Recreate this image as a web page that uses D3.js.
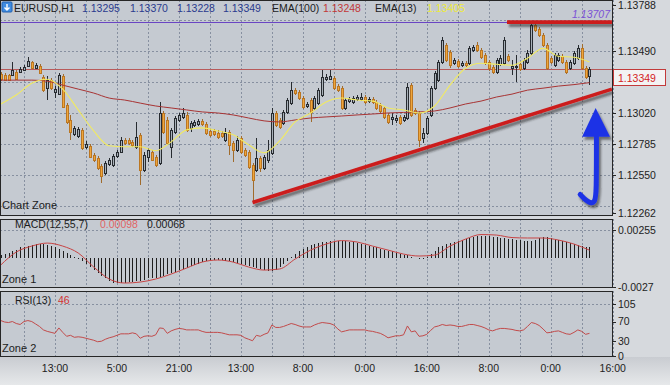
<!DOCTYPE html>
<html>
<head>
<meta charset="utf-8">
<script src="https://cdn.jsdelivr.net/npm/d3@7"></script>
<style>
body { margin: 0; background: #d5d8dc; }
svg { display: block; font-family: "Liberation Sans", Arial, sans-serif; }
</style>
</head>
<body>
<div id="chart"></div>
<script>
// EURUSD H1 candles (bar 0 is the partly hidden one at the left edge)
const opens = [1.13327,
  1.13312,1.13305,1.13305,1.13305,1.13327,1.13327,1.13342,1.13372,1.13403,1.13357,
  1.13372,1.13289,1.13206,1.13267,1.13176,1.13161,1.13297,1.13078,1.12965,1.12860,
  1.12845,1.12890,1.12762,1.12769,1.12701,1.12679,1.12618,1.12566,1.12633,1.12626,
  1.12694,1.12724,1.12814,1.12814,1.12799,1.12762,1.12852,1.12588,1.12686,1.12724,
  1.12686,1.12641,1.13018,1.12965,1.12762,1.12875,1.12965,1.12988,1.13003,1.12905,
  1.12928,1.12935,1.12958,1.12935,1.12882,1.12882,1.12867,1.12867,1.12814,1.12875,
  1.12792,1.12739,1.12830,1.12739,1.12724,1.12626,1.12588,1.12679,1.12603,1.12664,
  1.12716,1.13018,1.12965,1.12943,1.13026,1.13093,1.13191,1.13176,1.13131,1.13071,
  1.13116,1.13056,1.13093,1.13154,1.13274,1.13274,1.13282,1.13222,1.13206,1.13056,
  1.13108,1.13101,1.13124,1.13124,1.13139,1.13108,1.13124,1.13101,1.13078,1.13056,
  1.13003,1.12973,1.12965,1.12988,1.12965,1.12980,1.13229,1.13041,1.13018,1.12830,
  1.12867,1.13003,1.13206,1.13267,1.13403,1.13531,1.13478,1.13395,1.13410,1.13380,
  1.13395,1.13395,1.13493,1.13531,1.13493,1.13455,1.13403,1.13365,1.13327,1.13388,
  1.13395,1.13448,1.13357,1.13365,1.13388,1.13357,1.13403,1.13470,1.13682,1.13651,
  1.13606,1.13531,1.13433,1.13380,1.13418,1.13448,1.13403,1.13357,1.13395,1.13433,
  1.13508,1.13357,1.13295];
const highs = [1.13342,
  1.13327,1.13320,1.13312,1.13403,1.13342,1.13365,1.13380,1.13440,1.13410,1.13395,
  1.13388,1.13305,1.13297,1.13282,1.13222,1.13320,1.13312,1.13093,1.13003,1.12920,
  1.12913,1.12905,1.12807,1.12784,1.12716,1.12694,1.12633,1.12656,1.12679,1.12709,
  1.12739,1.12837,1.12830,1.12830,1.12814,1.12950,1.12867,1.12724,1.12754,1.12739,
  1.12701,1.13101,1.13033,1.12988,1.12905,1.12995,1.13018,1.13056,1.13026,1.12958,
  1.12965,1.12973,1.12973,1.12950,1.12897,1.12897,1.12890,1.12882,1.12905,1.12890,
  1.12807,1.12845,1.12845,1.12754,1.12739,1.12641,1.12830,1.12694,1.12701,1.12814,
  1.13056,1.13033,1.12980,1.13041,1.13131,1.13252,1.13206,1.13191,1.13146,1.13101,
  1.13131,1.13146,1.13206,1.13342,1.13312,1.13342,1.13297,1.13237,1.13222,1.13131,
  1.13139,1.13146,1.13154,1.13169,1.13154,1.13139,1.13139,1.13116,1.13093,1.13071,
  1.13018,1.13018,1.13003,1.13003,1.13003,1.13244,1.13244,1.13056,1.13033,1.12905,
  1.12995,1.13222,1.13335,1.13418,1.13591,1.13546,1.13493,1.13433,1.13425,1.13410,
  1.13410,1.13523,1.13531,1.13553,1.13508,1.13470,1.13418,1.13380,1.13433,1.13455,
  1.13591,1.13463,1.13418,1.13455,1.13403,1.13433,1.13493,1.13704,1.13697,1.13666,
  1.13621,1.13546,1.13448,1.13470,1.13470,1.13463,1.13418,1.13418,1.13486,1.13531,
  1.13538,1.13372,1.13370];
const lows = [1.13274,
  1.13259,1.13259,1.13259,1.13297,1.13267,1.13320,1.13335,1.13365,1.13350,1.13350,
  1.13312,1.13176,1.13116,1.13191,1.13131,1.13154,1.13056,1.12935,1.12814,1.12845,
  1.12830,1.12739,1.12747,1.12679,1.12649,1.12588,1.12490,1.12551,1.12618,1.12611,
  1.12679,1.12716,1.12777,1.12777,1.12762,1.12747,1.12475,1.12573,1.12649,1.12656,
  1.12611,1.12626,1.12860,1.12777,1.12679,1.12860,1.12950,1.12973,1.12875,1.12875,
  1.12913,1.12920,1.12920,1.12852,1.12837,1.12845,1.12822,1.12830,1.12799,1.12701,
  1.12649,1.12724,1.12709,1.12686,1.12596,1.12339,1.12573,1.12573,1.12588,1.12641,
  1.12701,1.12913,1.12897,1.12928,1.13011,1.13078,1.13154,1.13116,1.13048,1.13056,
  1.12950,1.13041,1.13078,1.13139,1.13259,1.13267,1.13191,1.13176,1.13041,1.13041,
  1.13093,1.13086,1.13108,1.13108,1.13086,1.13093,1.13086,1.13041,1.13018,1.12973,
  1.12935,1.12928,1.12943,1.12928,1.12950,1.12965,1.12988,1.13003,1.12762,1.12792,
  1.12852,1.12988,1.13191,1.13252,1.13388,1.13403,1.13357,1.13380,1.13357,1.13365,
  1.13365,1.13380,1.13478,1.13478,1.13425,1.13380,1.13335,1.13312,1.13312,1.13372,
  1.13380,1.13403,1.13305,1.13252,1.13335,1.13342,1.13388,1.13455,1.13629,1.13591,
  1.13516,1.13342,1.13388,1.13365,1.13403,1.13388,1.13312,1.13342,1.13380,1.13418,
  1.13342,1.13274,1.13228];
const closes = [1.13289,
  1.13274,1.13267,1.13267,1.13342,1.13274,1.13350,1.13365,1.13410,1.13357,1.13380,
  1.13320,1.13191,1.13267,1.13206,1.13199,1.13305,1.13063,1.12950,1.12875,1.12905,
  1.12897,1.12754,1.12784,1.12686,1.12664,1.12603,1.12543,1.12641,1.12664,1.12694,
  1.12724,1.12814,1.12792,1.12792,1.12777,1.12837,1.12588,1.12701,1.12739,1.12664,
  1.12626,1.13018,1.12875,1.12792,1.12890,1.12980,1.13003,1.13018,1.12890,1.12943,
  1.12950,1.12958,1.12935,1.12867,1.12852,1.12860,1.12837,1.12845,1.12867,1.12777,
  1.12739,1.12814,1.12724,1.12701,1.12611,1.12513,1.12679,1.12603,1.12686,1.12739,
  1.13018,1.12928,1.12913,1.13026,1.13116,1.13191,1.13169,1.13131,1.13063,1.13086,
  1.13026,1.13131,1.13191,1.13289,1.13289,1.13297,1.13206,1.13191,1.13056,1.13116,
  1.13124,1.13131,1.13139,1.13139,1.13101,1.13124,1.13101,1.13056,1.13033,1.12988,
  1.12950,1.12988,1.12980,1.12943,1.12988,1.13214,1.13003,1.13018,1.12814,1.12867,
  1.12980,1.13206,1.13320,1.13403,1.13568,1.13418,1.13380,1.13418,1.13372,1.13395,
  1.13380,1.13508,1.13516,1.13493,1.13440,1.13395,1.13357,1.13327,1.13418,1.13433,
  1.13568,1.13418,1.13372,1.13372,1.13350,1.13418,1.13470,1.13682,1.13644,1.13606,
  1.13531,1.13357,1.13403,1.13455,1.13455,1.13403,1.13327,1.13403,1.13470,1.13508,
  1.13357,1.13289,1.13349];

// moving averages, read every 4th bar starting at bar 1
const emaStart = 1, emaStep = 4;
const ema13 = [1.13086,1.13154,1.13244,1.13274,1.13199,1.13041,1.12882,1.12769,1.12762,1.12762,
  1.12732,1.12799,1.12890,1.12905,1.12882,1.12852,1.12777,1.12716,1.12807,1.12950,
  1.13018,1.13101,1.13131,1.13116,1.13108,1.13056,1.13041,1.13018,1.13071,1.13229,
  1.13357,1.13395,1.13387,1.13380,1.13433,1.13508,1.13448,1.13440,1.13405];
const ema100 = [1.13267,1.13267,1.13267,1.13259,1.13229,1.13199,1.13169,1.13131,1.13116,1.13093,
  1.13071,1.13056,1.13041,1.13026,1.13018,1.13003,1.12980,1.12958,1.12950,1.12965,
  1.12980,1.12988,1.12995,1.13003,1.13010,1.13018,1.13022,1.13026,1.13033,1.13056,
  1.13086,1.13108,1.13139,1.13161,1.13191,1.13206,1.13222,1.13233,1.13248];

// MACD(12,55,7) in points (1e-5): histogram every bar, signal every 4th bar
const macdHistPts = [19,
  28,37,46,65,74,93,102,111,120,130,130,130,120,111,102,83,65,46,28,9,
  -9,-28,-56,-83,-111,-139,-167,-194,-213,-232,-232,-232,-232,-222,-222,-213,-213,
  -204,-194,-185,-185,-176,-167,-157,-139,-130,-111,-102,-93,-74,-65,-56,
  -37,-28,-28,-19,-19,-19,-28,-28,-37,-46,-56,-65,-74,-83,-93,-102,
  -111,-120,-120,-111,-83,-56,-28,9,37,65,83,102,
  120,130,139,148,148,157,157,157,157,157,148,148,
  139,130,120,111,102,93,83,74,65,56,46,37,28,19,9,0,-9,-9,
  9,37,65,93,111,130,139,148,157,167,176,
  185,194,204,204,204,204,194,194,185,185,176,176,167,167,157,
  157,157,167,185,194,194,185,176,167,157,148,139,130,120,111,102,98];
const macdSignalPts = [-69,51,106,134,106,42,-88,-199,-236,-227,-199,-153,-97,-42,-23,-42,
  -88,-116,-106,-14,69,125,157,144,106,69,32,14,23,106,171,213,208,185,181,181,162,125,68];

// RSI(13), every bar
const rsi13 = [73,
  72,69,68,70,66,64,70,72,70,65, 60,53,50,48,46,57,48,40,42,38,
  39,38,36,34,32,29,30,34,37,39, 42,45,45,45,47,45,36,40,41,40,
  43,57,56,46,51,54,56,55,53,53, 53,53,50,48,48,48,48,47,45,43,
  43,43,42,37,34,31,42,40,44,47, 63,58,58,60,63,66,64,61,59,59,
  59,63,66,68,67,66,63,55,49,51, 53,53,53,53,53,51,50,48,46,42,
  37,39,41,41,43,61,49,51,40,41, 44,52,59,61,64,62,63,62,60,60,
  62,64,64,62,60,57,53,51,54,56, 56,55,54,52,51,53,60,68,66,62,
  55,47,48,50,51,48,45,44,48,53, 50,44,46];

const timeLabels = ["13:00","5:00","21:00","13:00","8:00","0:00","16:00","8:00","0:00","16:00"];
const priceTicks = [1.13490, 1.13020, 1.12785, 1.12550];
const priceGrid = [1.13725, 1.13490, 1.13255, 1.13020, 1.12785, 1.12550, 1.12315];
const quote = ["1.13295", "1.13370", "1.13228", "1.13349"];
const lastPrice = 1.13349;
const resistance = 1.13707;

// drawn objects, in bar / price coordinates
const trendLine = [[66, 1.12339], [158.8, 1.13199]];
const resistanceLine = [[131.7, resistance], [158.8, resistance]];
const arrowShaft = [[154.8, 1.12845], [154.8, 1.12407], [154.4, 1.12339], [152.9, 1.12332], [150.6, 1.12400]];
const arrowHead = [[154.6, 1.13056], [151.1, 1.12837], [158.3, 1.12837]];

const W = 670, H = 385, plotR = 612;
const panels = [
  {id: "main", top: 0, bot: 216},
  {id: "macd", top: 219, bot: 288},
  {id: "rsi", top: 291, bot: 357}
];

const x = d3.scaleLinear().domain([0, 159]).range([-3.1, 612.7]);
const yP = d3.scaleLinear().domain([1.12262, 1.13788]).range([212.7, 11.4]);
const yM = d3.scaleLinear().domain([-0.0027, 0.00255]).range([286.7, 230]);
const yR = d3.scaleLinear().domain([0, 105]).range([356, 304.3]);
const snap = v => Math.round(v) + 0.5;

const svg = d3.select("#chart").append("svg")
    .attr("width", W)
    .attr("height", H);

const defs = svg.append("defs");
const shadow = defs.append("filter").attr("id", "shadow")
    .attr("x", "-10%").attr("y", "-10%").attr("width", "130%").attr("height", "160%");
shadow.append("feDropShadow")
    .attr("dx", 2).attr("dy", 3).attr("stdDeviation", 1.3)
    .attr("flood-color", "#222").attr("flood-opacity", 0.55);

const bottomGrad = defs.append("linearGradient").attr("id", "bottomGrad")
    .attr("x1", 0).attr("y1", 0).attr("x2", 0).attr("y2", 1);
bottomGrad.append("stop").attr("offset", "0%").attr("stop-color", "#c9ccd1");
bottomGrad.append("stop").attr("offset", "100%").attr("stop-color", "#e6e8ea");

panels.forEach(p => {
  defs.append("clipPath").attr("id", "clip-" + p.id)
    .append("rect").attr("x", 0).attr("y", p.top).attr("width", plotR).attr("height", p.bot - p.top);
});

svg.append("rect").attr("width", W).attr("height", H).attr("fill", "#d6d9dd");
svg.append("rect").attr("x", 0).attr("y", 357).attr("width", W).attr("height", H - 357)
    .attr("fill", "url(#bottomGrad)");

// panel backgrounds and grids
const gridCols = d3.range(7, 160, 8);
panels.forEach(p => {
  svg.append("rect").attr("x", 0).attr("y", p.top).attr("width", plotR).attr("height", p.bot - p.top)
      .attr("fill", "#c5cad1");
  svg.append("g").selectAll("line").data(gridCols).join("line")
      .attr("x1", d => snap(x(d))).attr("x2", d => snap(x(d)))
      .attr("y1", p.top).attr("y2", p.bot)
      .attr("stroke", "#8790a0").attr("stroke-dasharray", "2,2")
      .attr("shape-rendering", "crispEdges");
});

function hGrid(ys) {
  svg.append("g").selectAll("line").data(ys).join("line")
      .attr("x1", 0).attr("x2", plotR)
      .attr("y1", d => snap(d)).attr("y2", d => snap(d))
      .attr("stroke", "#8790a0").attr("stroke-dasharray", "2,2")
      .attr("shape-rendering", "crispEdges");
}
hGrid(priceGrid.map(yP));
hGrid([yM(0.00255)]);
hGrid([yR(105)]);

// ---------- main chart ----------
const main = svg.append("g").attr("clip-path", "url(#clip-main)");

main.append("line")
    .attr("x1", 0).attr("x2", plotR)
    .attr("y1", snap(yP(resistance))).attr("y2", snap(yP(resistance)))
    .attr("stroke", "#6a45c4").attr("stroke-width", 1);
main.append("line")
    .attr("x1", 0).attr("x2", plotR)
    .attr("y1", snap(yP(lastPrice))).attr("y2", snap(yP(lastPrice)))
    .attr("stroke", "#b85a5a").attr("stroke-width", 1);

const bars = opens.map((o, j) => ({j, o, h: highs[j], l: lows[j], c: closes[j], up: closes[j] >= o}));

main.append("g").selectAll("line").data(bars).join("line")
    .attr("x1", d => Math.round(x(d.j)) + 0.5).attr("x2", d => Math.round(x(d.j)) + 0.5)
    .attr("y1", d => Math.round(yP(d.h))).attr("y2", d => Math.round(yP(d.l)))
    .attr("stroke", d => d.up ? "#272b30" : "#a06b2c")
    .attr("shape-rendering", "crispEdges");

main.append("g").selectAll("rect").data(bars).join("rect")
    .attr("x", d => Math.round(x(d.j)) - 0.5)
    .attr("y", d => Math.round(yP(Math.max(d.o, d.c))) + 0.5)
    .attr("width", 2)
    .attr("height", d => Math.max(1, Math.round(yP(Math.min(d.o, d.c))) - Math.round(yP(Math.max(d.o, d.c)))))
    .attr("fill", d => d.up ? "#a9b1b9" : "#eea63c")
    .attr("stroke", d => d.up ? "#272b30" : "#bb7622")
    .attr("shape-rendering", "crispEdges");

const emaLine = d3.line()
    .x((d, k) => x(emaStart + k * emaStep))
    .y(d => yP(d))
    .curve(d3.curveMonotoneX);
main.append("path").datum(ema100).attr("d", emaLine)
    .attr("fill", "none").attr("stroke", "#a83434").attr("stroke-width", 1);
main.append("path").datum(ema13).attr("d", emaLine)
    .attr("fill", "none").attr("stroke", "#f1ea62").attr("stroke-width", 1.1);

main.append("text")
    .attr("x", 610).attr("y", yP(resistance) - 4)
    .attr("text-anchor", "end")
    .attr("font-size", 10.5).attr("font-style", "italic")
    .attr("fill", "#7b50d6")
    .text(resistance.toFixed(5));

const drawn = main.append("g").attr("filter", "url(#shadow)");
const lineXY = d3.line().x(d => x(d[0])).y(d => yP(d[1]));
drawn.append("path").datum(trendLine).attr("d", lineXY)
    .attr("stroke", "#cc1c1c").attr("stroke-width", 3.6).attr("fill", "none");
drawn.append("path").datum(resistanceLine).attr("d", lineXY)
    .attr("stroke", "#cc1c1c").attr("stroke-width", 3.6).attr("fill", "none");
drawn.append("path").datum(arrowShaft).attr("d", lineXY.curve(d3.curveBasis))
    .attr("stroke", "#1b33e6").attr("stroke-width", 5).attr("stroke-linecap", "round").attr("fill", "none");
drawn.append("path").datum(arrowHead).attr("d", d3.line().x(d => x(d[0])).y(d => yP(d[1]))(arrowHead) + "Z")
    .attr("fill", "#1b33e6");

// header
const icon = svg.append("g").attr("transform", "translate(2,2)");
icon.append("rect").attr("width", 10).attr("height", 10).attr("rx", 1)
    .attr("fill", "#3f8be0").attr("stroke", "#2361b0");
icon.append("path").attr("d", "M5 2 V8 M2.5 5.5 L5 8 L7.5 5.5")
    .attr("stroke", "#fff").attr("stroke-width", 1.4).attr("fill", "none");

const header = [
  {t: "EURUSD,H1", x: 14, c: "#1c1c1c"},
  {t: quote[0], x: 82, c: "#2b3b8e"},
  {t: quote[1], x: 130, c: "#2b3b8e"},
  {t: quote[2], x: 177, c: "#2b3b8e"},
  {t: quote[3], x: 223, c: "#2b3b8e"},
  {t: "EMA(100)", x: 272, c: "#1c1c1c"},
  {t: ema100[ema100.length - 1].toFixed(5), x: 323, c: "#c23838"},
  {t: "EMA(13)", x: 375, c: "#1c1c1c"},
  {t: ema13[ema13.length - 1].toFixed(5), x: 427, c: "#eeea3a"}
];
svg.append("g").selectAll("text").data(header).join("text")
    .attr("x", d => d.x).attr("y", 11.5)
    .attr("font-size", 10.5).attr("fill", d => d.c)
    .text(d => d.t);

// ---------- MACD ----------
const macd = svg.append("g").attr("clip-path", "url(#clip-macd)");
macd.append("g").selectAll("line").data(macdHistPts).join("line")
    .attr("x1", (d, j) => Math.round(x(j)) + 0.5).attr("x2", (d, j) => Math.round(x(j)) + 0.5)
    .attr("y1", Math.round(yM(0)))
    .attr("y2", d => Math.round(yM(d / 1e5)))
    .attr("stroke", "#1f1f1f")
    .attr("shape-rendering", "crispEdges");
macd.append("path").datum(macdSignalPts)
    .attr("d", d3.line().x((d, k) => x(emaStart + k * emaStep)).y(d => yM(d / 1e5)).curve(d3.curveMonotoneX))
    .attr("fill", "none").attr("stroke", "#c84444").attr("stroke-width", 1);

svg.append("text").attr("x", 15).attr("y", 228).attr("font-size", 10.5).attr("fill", "#1c1c1c").text("MACD(12,55,7)");
svg.append("text").attr("x", 100).attr("y", 228).attr("font-size", 10.5).attr("fill", "#e06565")
    .text((macdHistPts[macdHistPts.length - 1] / 1e5).toFixed(5));
svg.append("text").attr("x", 147).attr("y", 228).attr("font-size", 10.5).attr("fill", "#1c1c1c")
    .text((macdSignalPts[macdSignalPts.length - 1] / 1e5).toFixed(5));

// ---------- RSI ----------
const rsi = svg.append("g").attr("clip-path", "url(#clip-rsi)");
rsi.append("path").datum(rsi13)
    .attr("d", d3.line().x((d, j) => x(j)).y(d => yR(d)))
    .attr("fill", "none").attr("stroke", "#c24a4a").attr("stroke-width", 1);

svg.append("text").attr("x", 15).attr("y", 304).attr("font-size", 10.5).attr("fill", "#1c1c1c").text("RSI(13)");
svg.append("text").attr("x", 58).attr("y", 304).attr("font-size", 10.5).attr("fill", "#d23232")
    .text(rsi13[rsi13.length - 1]);

// zone labels
[["Chart Zone", 209], ["Zone 1", 283], ["Zone 2", 352]].forEach(z => {
  svg.append("text").attr("x", 2).attr("y", z[1]).attr("font-size", 11).attr("fill", "#1c1c1c").text(z[0]);
});

// panel borders
panels.forEach(p => {
  svg.append("rect").attr("x", 0.5).attr("y", p.top + 0.5).attr("width", plotR - 0.5).attr("height", p.bot - p.top - 1)
      .attr("fill", "none").attr("stroke", "#262626").attr("shape-rendering", "crispEdges");
});

// ---------- right axes ----------
const axisLabels = [
  ...priceTicks.map(v => ({t: v.toFixed(5), y: yP(v) + 3.8, tick: yP(v)})),
  {t: "1.13788", y: 8.5, tick: 4.5},
  {t: "1.12262", y: 216.5, tick: 212.5},
  {t: "0.00255", y: yM(0.00255) + 3.8, tick: yM(0.00255)},
  {t: "-0.0027", y: 290.5, tick: 286.5},
  ...[105, 70, 30, 0].map(v => ({t: String(v), y: yR(v) + 3.8, tick: yR(v)}))
];
svg.append("g").selectAll("line").data(axisLabels).join("line")
    .attr("x1", plotR).attr("x2", plotR + 4)
    .attr("y1", d => snap(d.tick)).attr("y2", d => snap(d.tick))
    .attr("stroke", "#262626").attr("shape-rendering", "crispEdges");
svg.append("g").selectAll("text").data(axisLabels).join("text")
    .attr("x", plotR + 6).attr("y", d => d.y)
    .attr("font-size", 10.5).attr("fill", "#222")
    .text(d => d.t);

// last price box
const boxTop = Math.round(yP(lastPrice)) + 0.5;
svg.append("rect").attr("x", 613.5).attr("y", boxTop).attr("width", 52).attr("height", 16)
    .attr("fill", "#f3f3f3").attr("stroke", "#c23a3a").attr("shape-rendering", "crispEdges");
svg.append("text").attr("x", 618).attr("y", boxTop + 12)
    .attr("font-size", 10.5).attr("fill", "#d42222")
    .text(lastPrice.toFixed(5));

// ---------- time axis ----------
svg.append("g").selectAll("text").data(timeLabels).join("text")
    .attr("x", (d, k) => x(15 + 16 * k)).attr("y", 371.5)
    .attr("text-anchor", "middle")
    .attr("font-size", 10.5).attr("fill", "#222")
    .text(d => d);
</script>
</body>
</html>
